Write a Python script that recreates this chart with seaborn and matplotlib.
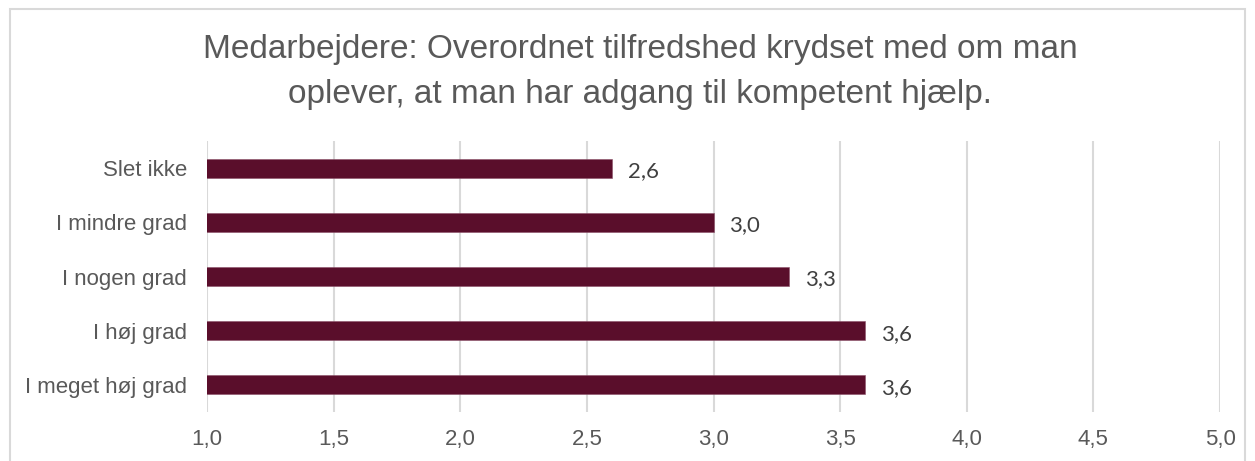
import matplotlib
matplotlib.use("Agg")
import matplotlib.pyplot as plt
import seaborn as sns
import pandas as pd
from matplotlib.patches import Rectangle

categories = ["Slet ikke", "I mindre grad", "I nogen grad", "I høj grad", "I meget høj grad"]
values = [2.6, 3.0, 3.3, 3.6, 3.6]
value_labels = ["2,6", "3,0", "3,3", "3,6", "3,6"]
xticks = [1.0, 1.5, 2.0, 2.5, 3.0, 3.5, 4.0, 4.5, 5.0]
xtick_labels = ["1,0", "1,5", "2,0", "2,5", "3,0", "3,5", "4,0", "4,5", "5,0"]
title = "Medarbejdere: Overordnet tilfredshed krydset med om man\noplever, at man har adgang til kompetent hjælp."

sns.set_theme(style="white")
plt.rcParams["font.family"] = ["Liberation Sans", "DejaVu Sans"]

W, H, DPI = 1255, 461, 100
fig = plt.figure(figsize=(W / DPI, H / DPI), dpi=DPI)
ax = fig.add_axes([207 / W, 1 - 412 / H, (1220 - 207) / W, (412 - 141) / H])

df = pd.DataFrame({"cat": categories, "val": values})
sns.barplot(data=df, x="val", y="cat", orient="h", color="#5A0E2B", width=0.35,
            saturation=1, ax=ax, edgecolor="#8B5068", linewidth=0.4)

ax.set_xlim(1.0, 5.0)
ax.set_ylim(4.5, -0.5)
ax.set_xticks(xticks)
ax.set_xticklabels(xtick_labels, fontsize=16, color="#595959")
ax.tick_params(axis="x", length=0, pad=12)
ax.tick_params(axis="y", length=0, pad=14.4, labelsize=16, labelcolor="#595959")
ax.set_xlabel("")
ax.set_ylabel("")
for s in ax.spines.values():
    s.set_visible(False)
ax.grid(axis="x", color="#D9D9D9", linewidth=1.5)
ax.set_axisbelow(True)

for i, (v, lab) in enumerate(zip(values, value_labels)):
    ax.annotate(lab, xy=(v, i), xytext=(16, -3), textcoords="offset pixels",
                va="center", ha="left", fontsize=16, color="#404040", family="Lato")

fig.text(640 / W, 1 - 72 / H, title, ha="center", va="center", fontsize=24,
         color="#595959", linespacing=1.55)

fig.patches.append(Rectangle((9.5 / W, -0.05), (1245 - 9.5) / W, 1.05 - 9 / H,
                             transform=fig.transFigure, fill=False,
                             edgecolor="#D9D9D9", linewidth=1.5))

fig.savefig("out.png", dpi=DPI)
